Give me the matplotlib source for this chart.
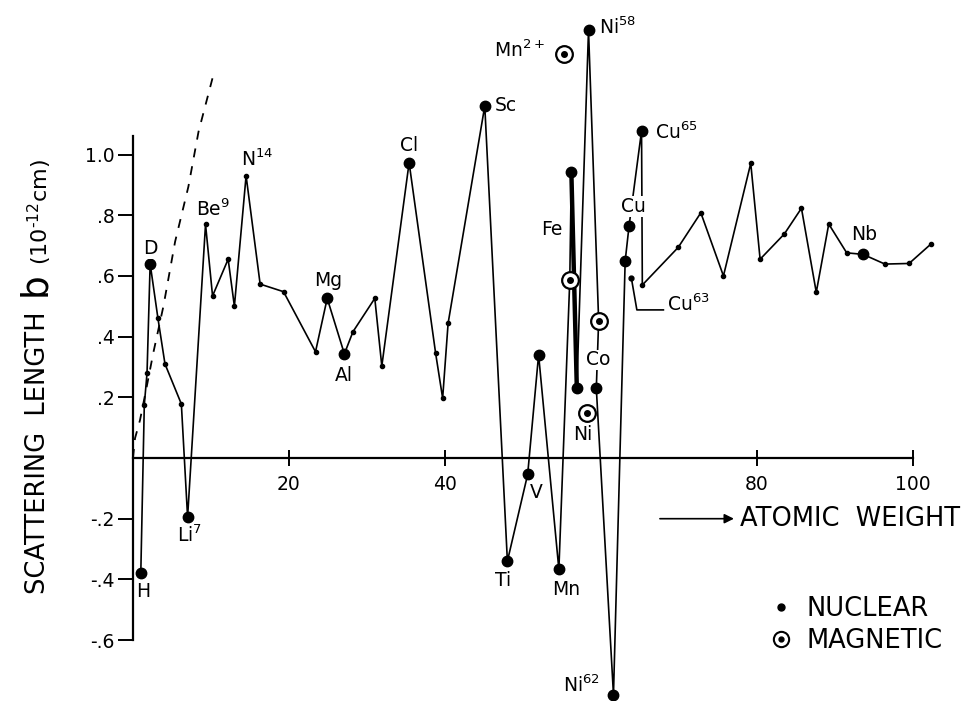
import matplotlib
matplotlib.use('Agg')
import matplotlib.pyplot as plt
from matplotlib.lines import Line2D
from matplotlib.legend_handler import HandlerTuple

# nuclear scattering length trace (atomic weight, b in 1e-12 cm)
trace_x = [1.0, 1.45, 1.8, 2.2, 3.2, 4.1, 6.2, 7.0, 9.3, 10.2, 12.2, 13.0, 14.5,
           16.3, 19.3, 23.4, 24.9, 27.1, 28.2, 31.0, 31.9, 35.4, 38.8, 39.7,
           40.4, 45.1, 48.0, 50.6, 52.0, 54.6, 56.0, 56.2, 56.9, 58.4, 59.7,
           59.4, 61.6, 63.1, 63.6, 65.2, 65.3, 69.9, 72.8, 75.7, 79.2, 80.4,
           83.5, 85.7, 87.6, 89.2, 91.5, 93.6, 96.4, 99.5, 102.3]
trace_b = [-0.38, 0.175, 0.28, 0.64, 0.46, 0.31, 0.178, -0.195, 0.77, 0.534,
           0.655, 0.50, 0.93, 0.573, 0.548, 0.35, 0.526, 0.343, 0.416, 0.526,
           0.303, 0.973, 0.345, 0.197, 0.444, 1.16, -0.34, -0.054, 0.34, -0.367,
           0.587, 0.943, 0.232, 1.41, 0.452, 0.23, -0.78, 0.649, 0.765, 1.078,
           0.57, 0.694, 0.808, 0.60, 0.971, 0.655, 0.738, 0.823, 0.546, 0.771,
           0.676, 0.671, 0.639, 0.641, 0.705]

# labelled nuclear values (big dots)
nuc_names = ['H', 'D', 'Li7', 'Mg', 'Al', 'Cl', 'Sc', 'Ti', 'V', 'Cr', 'Mn', 'Fe',
             'Fe57', 'Ni58', 'Co', 'Ni62', 'Cu_a', 'Cu_b', 'Cu65', 'Nb']
nuc_x = [1.0, 2.2, 7.0, 24.9, 27.1, 35.4, 45.1, 48.0, 50.6, 52.0, 54.6, 56.2,
         56.9, 58.4, 59.4, 61.6, 63.1, 63.6, 65.2, 93.6]
nuc_b = [-0.38, 0.64, -0.195, 0.526, 0.343, 0.973, 1.16, -0.34, -0.054, 0.34,
         -0.367, 0.943, 0.232, 1.41, 0.23, -0.78, 0.649, 0.765, 1.078, 0.671]

# Fe pair drawn with a heavy stroke
fe_x = [56.2, 56.9]
fe_b = [0.943, 0.232]

# Cu63 small point with leader
cu63_x = [63.9]
cu63_b = [0.592]
leader_x = [63.9, 64.6, 68.0]
leader_b = [0.592, 0.488, 0.488]

# magnetic scattering
mag_names = ['Mn2+', 'Fe', 'Co', 'Ni']
mag_x = [55.2, 56.0, 59.7, 58.2]
mag_b = [1.33, 0.587, 0.452, 0.147]

# dashed curve near origin
dash_x = [0.0, 0.26, 0.9, 1.76, 2.6, 3.9, 5.4, 7.1, 8.4, 10.3]
dash_b = [0.0, 0.065, 0.125, 0.235, 0.346, 0.5, 0.713, 0.894, 1.075, 1.262]

xtick_vals = [20, 40, 80, 100]
xtick_labels = ['20', '40', '80', '100']
ytick_vals = [1.0, 0.8, 0.6, 0.4, 0.2, -0.2, -0.4, -0.6]
ytick_labels = ['1.0', '.8', '.6', '.4', '.2', '-.2', '-.4', '-.6']

# element labels: text, x, b, ha
labels = [
    ('H', 1.3, -0.44, 'center'),
    ('D', 2.2, 0.69, 'center'),
    (r'Li$^{7}$', 7.3, -0.255, 'center'),
    (r'Be$^{9}$', 10.3, 0.82, 'center'),
    (r'N$^{14}$', 15.9, 0.985, 'center'),
    ('Mg', 25.0, 0.586, 'center'),
    ('Al', 27.0, 0.273, 'center'),
    ('Cl', 35.4, 1.03, 'center'),
    ('Sc', 46.4, 1.16, 'left'),
    ('Ti', 47.5, -0.405, 'center'),
    ('V', 51.7, -0.114, 'center'),
    ('Mn', 55.6, -0.433, 'center'),
    ('Fe', 53.7, 0.753, 'center'),
    (r'Mn$^{2+}$', 52.8, 1.345, 'right'),
    (r'Ni$^{58}$', 59.7, 1.42, 'left'),
    ('Co', 59.7, 0.323, 'center'),
    ('Ni', 57.6, 0.076, 'center'),
    ('Cu', 64.1, 0.828, 'center'),
    (r'Cu$^{65}$', 66.9, 1.075, 'left'),
    (r'Cu$^{63}$', 68.5, 0.505, 'left'),
    ('Nb', 93.7, 0.735, 'center'),
    (r'Ni$^{62}$', 59.9, -0.75, 'right'),
]

plt.rcParams['font.family'] = ['DejaVu Sans']
fig = plt.figure(figsize=(9.65, 7.01), dpi=100)
ax = fig.add_axes([0.0974, 0.0003, 0.8972, 0.9741])
ax.set_xlim(-5, 106)
ax.set_ylim(-0.8, 1.45)

lw = 1.2
ax.plot(trace_x, trace_b, color='k', lw=lw, marker='o', ms=3, clip_on=False, zorder=3)
ax.plot(fe_x, fe_b, color='k', lw=3.2, solid_capstyle='round', clip_on=False, zorder=3)
ax.plot(nuc_x, nuc_b, 'o', color='k', ms=7.5, clip_on=False, zorder=4)
ax.plot(cu63_x, cu63_b, 'o', color='k', ms=3.5, clip_on=False, zorder=4)
ax.plot(leader_x, leader_b, color='k', lw=lw, clip_on=False, zorder=3)
ax.plot(mag_x, mag_b, 'o', mfc='white', mec='k', mew=1.6, ms=12, clip_on=False, zorder=5)
ax.plot(mag_x, mag_b, 'o', color='k', ms=4, clip_on=False, zorder=6)
ax.plot(dash_x, dash_b, color='k', lw=1.3, ls=(0, (5, 5)), clip_on=False, zorder=2)

for txt, x, y, ha in labels:
    ax.text(x, y, txt, ha=ha, va='center', fontsize=13.5, zorder=7,
            bbox=dict(facecolor='white', edgecolor='none', pad=0.5))

# axes drawn as in the original: crossing at the origin
for s in ['top', 'right']:
    ax.spines[s].set_visible(False)
ax.spines['left'].set_position(('data', 0))
ax.spines['bottom'].set_position(('data', 0))
ax.spines['left'].set_bounds(-0.6, 1.06)
ax.spines['bottom'].set_bounds(0, 100)
ax.spines['left'].set_linewidth(1.6)
ax.spines['bottom'].set_linewidth(1.6)

ax.set_xticks(xtick_vals)
ax.set_xticklabels(xtick_labels)
ax.set_yticks(ytick_vals)
ax.set_yticklabels(ytick_labels)
ax.tick_params(axis='x', direction='inout', length=12, width=1.4, pad=6, labelsize=13.5)
ax.tick_params(axis='y', direction='out', length=11, width=1.4, pad=2, labelsize=13.5)

ax.annotate('', xy=(77.4, -0.2), xytext=(67.2, -0.2),
            arrowprops=dict(arrowstyle='-|>', color='k', lw=1.2, mutation_scale=14))
ax.text(77.8, -0.2, 'ATOMIC  WEIGHT', ha='left', va='center', fontsize=18.5)

fig.text(38 / 965, 1 - 453 / 701, 'SCATTERING  LENGTH', rotation=90,
         ha='center', va='center', fontsize=18.5)
fig.text(35 / 965, 1 - 284 / 701, 'b', rotation=90, ha='center', va='center', fontsize=27)
fig.text(40 / 965, 1 - 212 / 701, '(10$^{\u2010 12}$cm)', rotation=90,
         ha='center', va='center', fontsize=16)

nuc_h = Line2D([], [], ls='none', marker='o', color='k', ms=5)
mag_o = Line2D([], [], ls='none', marker='o', mfc='white', mec='k', mew=1.5, ms=11)
mag_d = Line2D([], [], ls='none', marker='o', color='k', ms=3.5)
ax.legend([nuc_h, (mag_o, mag_d)], ['NUCLEAR', 'MAGNETIC'],
          handler_map={tuple: HandlerTuple(ndivide=1, pad=0)},
          loc='upper left', bbox_to_anchor=(753 / 965, 1 - 583 / 701),
          bbox_transform=fig.transFigure, frameon=False, fontsize=18.5,
          handlelength=1.2, handletextpad=0.4, labelspacing=0.25, borderpad=0)

fig.savefig('out.png', dpi=100)
